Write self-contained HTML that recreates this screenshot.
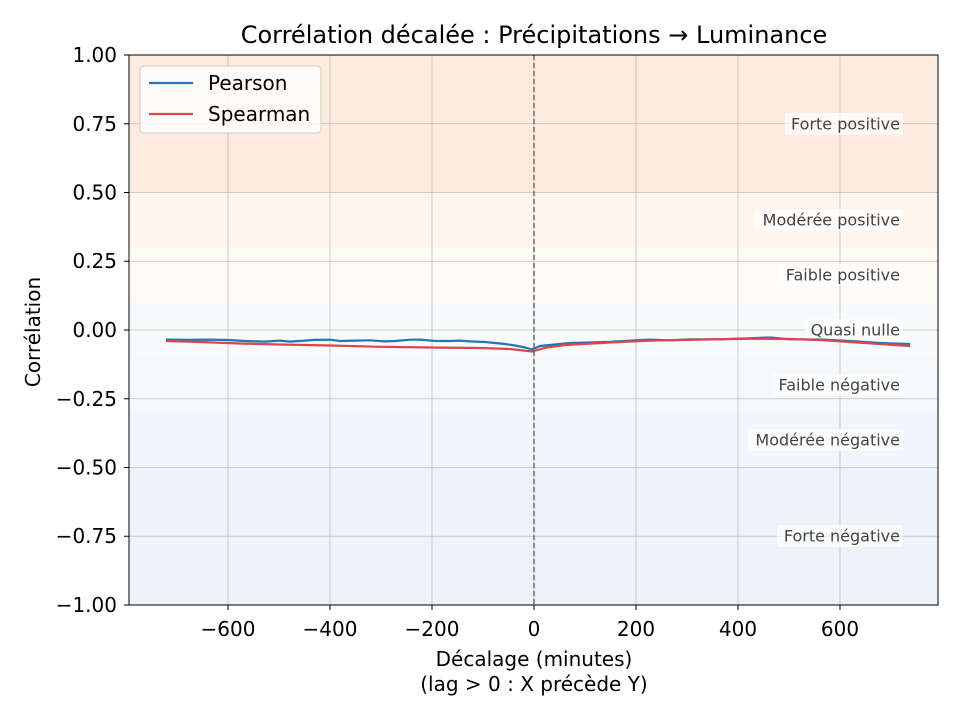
<!DOCTYPE html>
<html><head><meta charset="utf-8"><style>
body{margin:0;background:#fff;}
svg{display:block;font-family:"DejaVu Sans","Liberation Sans",sans-serif;}
</style></head><body>
<svg width="960" height="720" viewBox="0 0 960 720" xmlns="http://www.w3.org/2000/svg">
<rect width="960" height="720" fill="#fff"/>
<rect x="129" y="55" width="809" height="137.5" fill="#fdebe0"/>
<rect x="129" y="192.5" width="809" height="55" fill="#fef6ec"/>
<rect x="129" y="247.5" width="809" height="55" fill="#fefaf6"/>
<rect x="129" y="302.5" width="809" height="55" fill="#f9fafb"/>
<rect x="129" y="357.5" width="809" height="55" fill="#f6f9fb"/>
<rect x="129" y="412.5" width="809" height="55" fill="#f2f6fa"/>
<rect x="129" y="467.5" width="809" height="137.5" fill="#eef3f8"/>
<g stroke="#b0b0b0" stroke-width="0.8" opacity="0.8">
<line x1="228" y1="55" x2="228" y2="605"/><line x1="330" y1="55" x2="330" y2="605"/>
<line x1="432" y1="55" x2="432" y2="605"/><line x1="534" y1="55" x2="534" y2="605"/>
<line x1="636" y1="55" x2="636" y2="605"/><line x1="738" y1="55" x2="738" y2="605"/>
<line x1="840" y1="55" x2="840" y2="605"/>
<line x1="129" y1="123.75" x2="938" y2="123.75"/><line x1="129" y1="192.5" x2="938" y2="192.5"/>
<line x1="129" y1="261.25" x2="938" y2="261.25"/><line x1="129" y1="330" x2="938" y2="330"/>
<line x1="129" y1="398.75" x2="938" y2="398.75"/><line x1="129" y1="467.5" x2="938" y2="467.5"/>
<line x1="129" y1="536.25" x2="938" y2="536.25"/>
</g>
<line x1="534" y1="55" x2="534" y2="605" stroke="#555" stroke-width="1.3" stroke-dasharray="5,3"/>
<g font-size="16" fill="#444" text-anchor="end">
<rect x="785" y="113" width="118" height="22" fill="#fff" opacity="0.7"/><text x="900" y="129.5">Forte positive</text>
<rect x="755" y="209" width="148" height="22" fill="#fff" opacity="0.7"/><text x="900" y="225.5">Modérée positive</text>
<rect x="779" y="264" width="124" height="22" fill="#fff" opacity="0.7"/><text x="900" y="280.5">Faible positive</text>
<rect x="805" y="319" width="98" height="22" fill="#fff" opacity="0.7"/><text x="900" y="335.5">Quasi nulle</text>
<rect x="772" y="374" width="131" height="22" fill="#fff" opacity="0.7"/><text x="900" y="390.5">Faible négative</text>
<rect x="748" y="429" width="155" height="22" fill="#fff" opacity="0.7"/><text x="900" y="445.5">Modérée négative</text>
<rect x="777" y="525" width="126" height="22" fill="#fff" opacity="0.7"/><text x="900" y="541.5">Forte négative</text>
</g>
<polyline fill="none" stroke="#1f77b4" stroke-width="2.2" points="166,339.6 190,339.9 210,339.6 228,340 245,341 265,341.6 280,340.6 290,341.6 305,340.6 315,339.9 330,339.7 340,341 355,340.6 370,340.3 385,341.4 395,341 410,339.7 420,339.6 435,341 450,341 460,340.6 470,341.4 485,342 495,343 505,344 515,345.5 525,347.5 532,349.5 540,346 555,344.5 570,343 590,342.5 610,341.8 630,340.6 650,339.6 670,340.3 690,339.3 720,339.3 750,338.2 770,337.5 790,339.3 820,339.5 850,341 880,343 910,344"/>
<polyline fill="none" stroke="#e0424f" stroke-width="2.2" points="166,341 200,342 240,343.5 280,344.5 330,345.5 380,346.8 430,347.5 480,348 510,349 532,351.5 545,347.8 565,345 590,343.6 620,342 650,340.6 700,339.6 750,338.6 790,339 820,340 850,342 880,344 910,346"/>
<rect x="129" y="55" width="809" height="550" fill="none" stroke="#000" stroke-width="1"/>
<g stroke="#000" stroke-width="1">
<line x1="228" y1="605" x2="228" y2="610"/><line x1="330" y1="605" x2="330" y2="610"/>
<line x1="432" y1="605" x2="432" y2="610"/><line x1="534" y1="605" x2="534" y2="610"/>
<line x1="636" y1="605" x2="636" y2="610"/><line x1="738" y1="605" x2="738" y2="610"/>
<line x1="840" y1="605" x2="840" y2="610"/>
<line x1="124" y1="55" x2="129" y2="55"/><line x1="124" y1="123.75" x2="129" y2="123.75"/>
<line x1="124" y1="192.5" x2="129" y2="192.5"/><line x1="124" y1="261.25" x2="129" y2="261.25"/>
<line x1="124" y1="330" x2="129" y2="330"/><line x1="124" y1="398.75" x2="129" y2="398.75"/>
<line x1="124" y1="467.5" x2="129" y2="467.5"/><line x1="124" y1="536.25" x2="129" y2="536.25"/>
<line x1="124" y1="605" x2="129" y2="605"/>
</g>
<g font-size="20" fill="#000" text-anchor="middle">
<text x="228" y="636">−600</text><text x="330" y="636">−400</text><text x="432" y="636">−200</text>
<text x="534" y="636">0</text><text x="636" y="636">200</text><text x="738" y="636">400</text><text x="840" y="636">600</text>
</g>
<g font-size="20" fill="#000" text-anchor="end">
<text x="117" y="62">1.00</text><text x="117" y="131">0.75</text><text x="117" y="199.5">0.50</text>
<text x="117" y="268">0.25</text><text x="117" y="337">0.00</text><text x="117" y="406">−0.25</text>
<text x="117" y="474.5">−0.50</text><text x="117" y="543">−0.75</text><text x="117" y="612">−1.00</text>
</g>
<text x="534" y="666" font-size="20" text-anchor="middle">Décalage (minutes)</text>
<text x="534" y="691" font-size="20" text-anchor="middle">(lag &gt; 0 : X précède Y)</text>
<text x="40" y="332" font-size="20" text-anchor="middle" transform="rotate(-90 40 332)">Corrélation</text>
<text x="534" y="43" font-size="24" text-anchor="middle">Corrélation décalée : Précipitations → Luminance</text>
<rect x="140" y="66" width="181" height="67" rx="4" fill="#fff" fill-opacity="0.8" stroke="#ccc"/>
<line x1="149" y1="83" x2="193" y2="83" stroke="#1f77b4" stroke-width="2.2"/>
<text x="208" y="90" font-size="20">Pearson</text>
<line x1="149" y1="114" x2="193" y2="114" stroke="#e0424f" stroke-width="2.2"/>
<text x="208" y="121" font-size="20">Spearman</text>
</svg>
</body></html>
